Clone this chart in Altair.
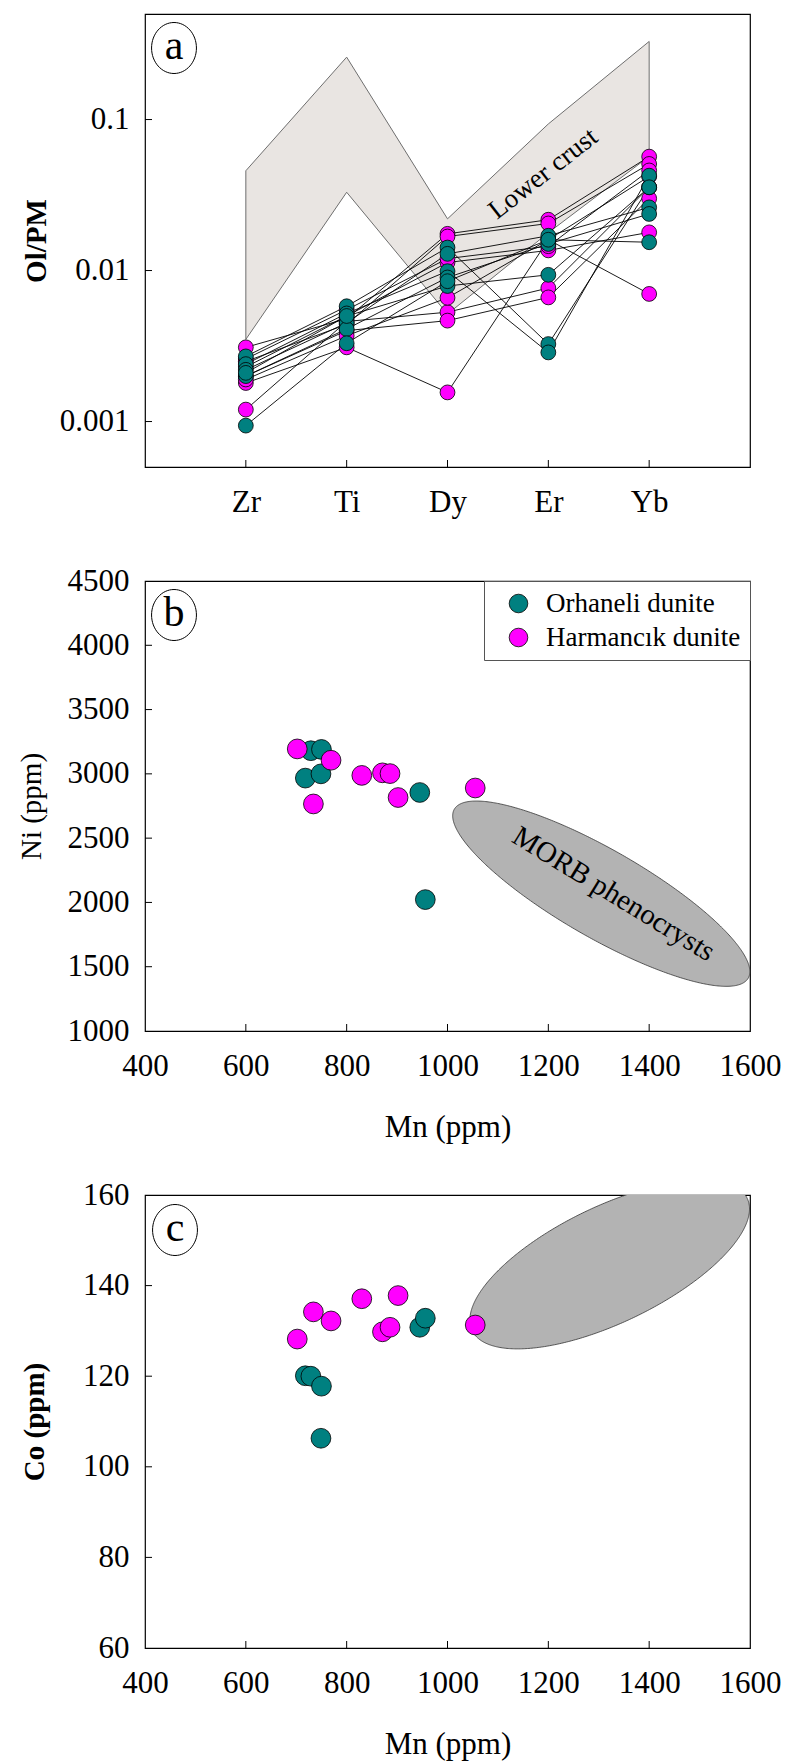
import json
import numpy as np
import pandas as pd
import altair as alt

FONT = "Liberation Serif"
TEAL = "#008080"
MAGENTA = "#ff00ff"
GROUPS = ["Orhaneli dunite", "Harmancık dunite"]

# ---------------- panel a : Ol/PM spider diagram ----------------
ELEMENTS = ["Zr", "Ti", "Dy", "Er", "Yb"]
ELEMENT_POS = [1, 2, 3, 4, 5]

ORH_OLPM = [
    [0.0027, 0.0058, 0.0142, 0.00326, 0.0356],
    [0.0024, 0.0052, 0.0099, 0.00287, 0.0425],
    [0.0022, 0.0045, 0.0129, 0.0170, 0.0262],
    [0.0020, 0.0041, 0.0090, 0.0150, 0.0237],
    [0.0021, 0.0050, 0.0079, 0.00937, 0.0356],
    [0.00094, 0.0033, 0.0085, 0.0160, 0.0154],
]
HAR_OLPM = [
    [0.0031, 0.0048, 0.0175, 0.0217, 0.0568],
    [0.0025, 0.0044, 0.0168, 0.0205, 0.0508],
    [0.0018, 0.0031, 0.00156, 0.0160, 0.0070],
    [0.0012, 0.0046, 0.0053, 0.00766, 0.0356],
    [0.0020, 0.0040, 0.00466, 0.00664, 0.0300],
    [0.0023, 0.0050, 0.0113, 0.0136, 0.0179],
    [0.0019, 0.0037, 0.0066, 0.0160, 0.0420],
    [0.0026, 0.0055, 0.0120, 0.0145, 0.0460],
]
LOWER_CRUST_UPPER = [0.0458, 0.259, 0.022, 0.0935, 0.329]
LOWER_CRUST_LOWER = [0.0035, 0.033, 0.00515, 0.0178, 0.057]
OLPM_TICKS = [0.001, 0.01, 0.1]

# ---------------- panels b, c : Mn vs Ni / Co ----------------
ORH_MN = [718, 729, 750, 749, 945, 956]
ORH_NI = [2967, 3180, 3190, 3000, 2855, 2022]
ORH_CO = [120.1, 120.0, 117.8, 106.3, 130.8, 132.8]
HAR_MN = [702, 734, 769, 830, 871, 886, 902, 1055]
HAR_NI = [3194, 2766, 3106, 2988, 3008, 3002, 2816, 2890]
HAR_CO = [128.2, 134.2, 132.2, 137.1, 129.8, 130.8, 137.8, 131.3]

MN_TICKS = [400, 600, 800, 1000, 1200, 1400, 1600]
NI_TICKS = [1000, 1500, 2000, 2500, 3000, 3500, 4000, 4500]
CO_TICKS = [60, 80, 100, 120, 140, 160]

# MORB phenocryst fields (ellipse: centre, two conjugate semi-axis vectors, data units)
MORB_NI_CENTER, MORB_NI_U, MORB_NI_V = (1305, 2068), (291.5, -656.8), (-43.5, -296.6)
MORB_CO_CENTER, MORB_CO_U, MORB_CO_V = (1321.7, 144.66), (272.8, 14.6), (50.1, -11.57)

W = 605
HA, HB, HC = 453, 450, 453
TICK = 7


def ellipse_band(c, u, v, n=241):
    R = np.hypot(u[0], v[0])
    phi = np.arctan2(v[0], u[0])
    xs = c[0] + R * np.cos(np.linspace(np.pi, 0, n))
    a = np.arccos(np.clip((xs - c[0]) / R, -1, 1))
    t1, t2 = phi + a, phi - a
    y1 = c[1] + u[1] * np.cos(t1) + v[1] * np.sin(t1)
    y2 = c[1] + u[1] * np.cos(t2) + v[1] * np.sin(t2)
    return pd.DataFrame({"x": xs, "hi": np.maximum(y1, y2), "lo": np.minimum(y1, y2)})


def tick_layers(xvals, yvals, h, xf, yf):
    xt = alt.Chart(pd.DataFrame({xf: xvals})).mark_rule(color="black", strokeWidth=1).encode(
        x=alt.X(f"{xf}:Q"), y=alt.value(h), y2=alt.value(h - TICK))
    yt = alt.Chart(pd.DataFrame({yf: yvals})).mark_rule(color="black", strokeWidth=1).encode(
        y=alt.Y(f"{yf}:Q"), x=alt.value(0), x2=alt.value(TICK))
    return [xt, yt]


ELLIPSE_PATH = "M -0.88 0 A 0.88 1 0 1 1 0.88 0 A 0.88 1 0 1 1 -0.88 0 Z"


def panel_label(letter, dx=29, dy=34):
    df = pd.DataFrame({"t": [letter]})
    ring = alt.Chart(df).mark_point(shape=ELLIPSE_PATH, size=2601, filled=False,
                                    stroke="black", strokeWidth=1, opacity=1).encode(
        x=alt.value(dx), y=alt.value(dy))
    txt = alt.Chart(df).mark_text(font=FONT, fontSize=42, baseline="alphabetic", align="center",
                                  color="black").encode(
        text="t:N", x=alt.value(dx), y=alt.value(dy + 10.5))
    return [ring, txt]


color_scale = alt.Scale(domain=GROUPS, range=[TEAL, MAGENTA])

# ---------------- build panel a ----------------
rows = []
for grp, block in [(GROUPS[1], HAR_OLPM), (GROUPS[0], ORH_OLPM)]:
    for si, vals in enumerate(block):
        for el, pos, v in zip(ELEMENTS, ELEMENT_POS, vals):
            rows.append({"sample": f"{grp}-{si}", "group": grp, "pos": pos, "hi": v})
spider = pd.DataFrame(rows)
band = pd.DataFrame({"pos": ELEMENT_POS, "hi": LOWER_CRUST_UPPER, "lo": LOWER_CRUST_LOWER})

xa = alt.Scale(domain=[0, 6], nice=False, zero=False)
ya = alt.Scale(type="log", domain=[0.0005, 0.5], nice=False)

a_band = alt.Chart(band).mark_area(fill="#e9e5e2", stroke="#6e6e6e", strokeWidth=1, opacity=1).encode(
    x=alt.X("pos:Q", scale=xa, axis=alt.Axis(values=ELEMENT_POS, title=None,
                                             labelExpr=f"{json.dumps(ELEMENTS)}[datum.value - 1]")),
    y=alt.Y("hi:Q", scale=ya, axis=alt.Axis(values=OLPM_TICKS, format="~g", title="Ol/PM",
                                            titleFontWeight="bold", titleX=-108.5, titleY=HA / 2,
                                            titleAngle=270, titleBaseline="middle", titleAlign="center")),
    y2="lo:Q")
a_lines = alt.Chart(spider).mark_line(color="black", strokeWidth=0.9).encode(
    x="pos:Q", y="hi:Q", detail="sample:N", order="pos:Q")
a_pts = alt.Chart(spider).mark_circle(size=220, opacity=1, stroke="black", strokeWidth=0.8).encode(
    x="pos:Q", y="hi:Q", color=alt.Color("group:N", scale=color_scale, legend=None))
a_text = alt.Chart(pd.DataFrame({"t": ["Lower crust"]})).mark_text(
    font=FONT, fontSize=27, angle=322, color="black").encode(
    text="t:N", x=alt.datum(3.95), y=alt.datum(0.0437))
chart_a = alt.layer(a_band, a_lines, a_pts, a_text,
                    *tick_layers(ELEMENT_POS, OLPM_TICKS, HA, "pos", "hi"),
                    *panel_label("a")).properties(width=W, height=HA)

# ---------------- build panel b ----------------
mn_scale = alt.Scale(domain=[400, 1600], nice=False, zero=False)
ni_scale = alt.Scale(domain=[1000, 4500], nice=False, zero=False)
co_scale = alt.Scale(domain=[60, 160], nice=False, zero=False)

pts_b = pd.DataFrame({
    "group": [GROUPS[0]] * len(ORH_MN) + [GROUPS[1]] * len(HAR_MN),
    "x": ORH_MN + HAR_MN, "hi": ORH_NI + HAR_NI})
pts_c = pd.DataFrame({
    "group": [GROUPS[0]] * len(ORH_MN) + [GROUPS[1]] * len(HAR_MN),
    "x": ORH_MN + HAR_MN, "hi": ORH_CO + HAR_CO})


def mn_axis():
    return alt.Axis(values=MN_TICKS, format="d", title="Mn (ppm)", titleFontSize=31,
                    titleFontWeight="normal", titleX=W / 2, titleY=96,
                    titleBaseline="middle", titleAlign="center")


def y_axis(values, title, tx, h, bold):
    return alt.Axis(values=values, format="d", title=title, titleX=tx, titleY=h / 2, titleAngle=270,
                    titleBaseline="middle", titleAlign="center",
                    titleFontWeight="bold" if bold else "normal")


b_ell = alt.Chart(ellipse_band(MORB_NI_CENTER, MORB_NI_U, MORB_NI_V)).mark_area(
    fill="#b3b3b3", stroke="#333333", strokeWidth=0.8, opacity=1).encode(
    x=alt.X("x:Q", scale=mn_scale, axis=mn_axis()),
    y=alt.Y("hi:Q", scale=ni_scale, axis=y_axis(NI_TICKS, "Ni (ppm)", -113.5, HB, False)),
    y2="lo:Q")
b_text = alt.Chart(pd.DataFrame({"t": ["MORB phenocrysts"]})).mark_text(
    font=FONT, fontSize=29, angle=31.5, color="black").encode(
    text="t:N", x=alt.datum(1330), y=alt.datum(2066))
b_pts = alt.Chart(pts_b).mark_circle(size=390, opacity=1, stroke="black", strokeWidth=0.8).encode(
    x="x:Q", y="hi:Q",
    color=alt.Color("group:N", scale=color_scale, legend=alt.Legend(
        orient="top-right", offset=0, title=None, strokeColor="#555555", fillColor="white",
        padding=9, symbolOffset=12, labelFont=FONT, labelFontSize=27, labelOffset=14,
        labelColor="black", symbolSize=346, symbolType="circle", symbolStrokeColor="black",
        symbolStrokeWidth=0.8, symbolOpacity=1, rowPadding=6, labelLimit=0)))
chart_b = alt.layer(b_ell, b_text, b_pts,
                    *tick_layers(MN_TICKS[1:-1], NI_TICKS[1:-1], HB, "x", "hi"),
                    *panel_label("b")).properties(width=W, height=HB)

# ---------------- build panel c ----------------
c_ell = alt.Chart(ellipse_band(MORB_CO_CENTER, MORB_CO_U, MORB_CO_V)).mark_area(
    fill="#b3b3b3", stroke="#333333", strokeWidth=0.8, opacity=1, clip=True).encode(
    x=alt.X("x:Q", scale=mn_scale, axis=mn_axis()),
    y=alt.Y("hi:Q", scale=co_scale, axis=y_axis(CO_TICKS, "Co (ppm)", -110.5, HC, True)),
    y2="lo:Q")
c_pts = alt.Chart(pts_c).mark_circle(size=390, opacity=1, stroke="black", strokeWidth=0.8).encode(
    x="x:Q", y="hi:Q", color=alt.Color("group:N", scale=color_scale, legend=None))
chart_c = alt.layer(c_ell, c_pts,
                    *tick_layers(MN_TICKS[1:-1], CO_TICKS[1:-1], HC, "x", "hi"),
                    *panel_label("c", dx=30, dy=35)).properties(width=W, height=HC)


def indep(ch):
    return ch.resolve_scale(x="independent", y="independent", color="independent").resolve_legend(
        color="independent")


top = indep(alt.vconcat(chart_a, chart_b, spacing=46))
chart = indep(alt.vconcat(top, chart_c, spacing=35)).properties(
    padding={"left": 16, "top": 13, "right": 4, "bottom": 2}, background="white"
).configure_axis(
    labelFont=FONT, labelFontSize=31, labelColor="black", titleFont=FONT, titleFontSize=29,
    titleColor="black", ticks=False, tickSize=0, domain=False, grid=False,
    labelOverlap=False, labelFlush=False, labelBound=False
).configure_axisY(labelPadding=16).configure_axisX(labelPadding=20).configure_view(
    stroke="black", strokeWidth=1.2)

chart.save("out.html", embed_options={"renderer": "svg", "actions": False})
